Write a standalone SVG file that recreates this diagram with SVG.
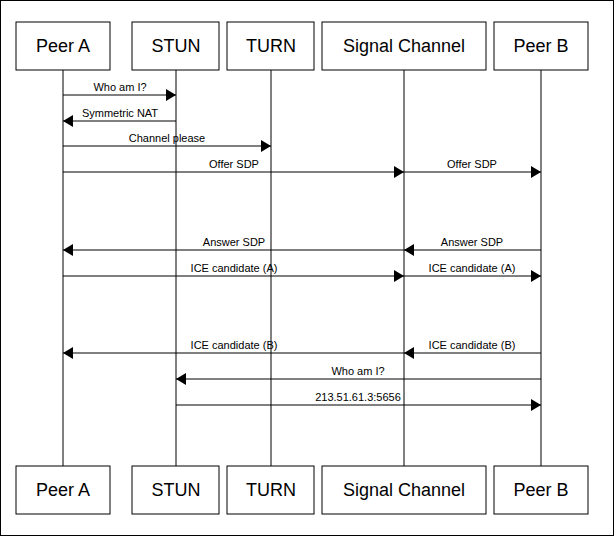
<svg xmlns="http://www.w3.org/2000/svg" width="615" height="537" viewBox="0 0 615 537">
<style>
.box{fill:#fff;stroke:#000;stroke-width:1}
.bt{font-family:"Liberation Sans",Arial,sans-serif;font-size:18px;text-anchor:middle}
.ml{font-family:"Liberation Sans",Arial,sans-serif;font-size:11px;text-anchor:middle}
.ll{stroke:#000;stroke-width:1}
.msg{stroke:#000;stroke-width:1;marker-end:url(#ah)}
</style>
<defs><marker id="ah" markerWidth="10" markerHeight="12" refX="10" refY="6" orient="auto" markerUnits="userSpaceOnUse"><path d="M0,0L10,6L0,12Z" fill="#000"/></marker></defs>
<rect x="0.5" y="0.5" width="613" height="535" fill="#fff" stroke="#000"/>
<g id="lifelines">
<line class="ll" x1="63" y1="70" x2="63" y2="466"/>
<line class="ll" x1="176" y1="70" x2="176" y2="466"/>
<line class="ll" x1="271" y1="70" x2="271" y2="466"/>
<line class="ll" x1="404" y1="70" x2="404" y2="466"/>
<line class="ll" x1="541" y1="70" x2="541" y2="466"/>
</g>
<g id="peerA"><rect class="box" x="16" y="22" width="94" height="48"/><text class="bt" x="63" y="52">Peer A</text>
<rect class="box" x="16" y="466" width="94" height="48"/><text class="bt" x="63" y="496">Peer A</text></g>
<g id="stun"><rect class="box" x="132" y="22" width="87" height="48"/><text class="bt" x="176" y="52">STUN</text>
<rect class="box" x="132" y="466" width="87" height="48"/><text class="bt" x="176" y="496">STUN</text></g>
<g id="turn"><rect class="box" x="227" y="22" width="87" height="48"/><text class="bt" x="271" y="52">TURN</text>
<rect class="box" x="227" y="466" width="87" height="48"/><text class="bt" x="271" y="496">TURN</text></g>
<g id="signal"><rect class="box" x="322" y="22" width="164" height="48"/><text class="bt" x="404" y="52">Signal Channel</text>
<rect class="box" x="322" y="466" width="164" height="48"/><text class="bt" x="404" y="496">Signal Channel</text></g>
<g id="peerB"><rect class="box" x="494" y="22" width="94" height="48"/><text class="bt" x="541" y="52">Peer B</text>
<rect class="box" x="494" y="466" width="94" height="48"/><text class="bt" x="541" y="496">Peer B</text></g>
<g id="connectors">
<line class="msg" x1="63" y1="95" x2="176" y2="95"/><text class="ml" x="120" y="91">Who am I?</text>
<line class="msg" x1="176" y1="121" x2="63" y2="121"/><text class="ml" x="120" y="117">Symmetric NAT</text>
<line class="msg" x1="63" y1="146" x2="271" y2="146"/><text class="ml" x="167" y="142">Channel please</text>
<line class="msg" x1="63" y1="172" x2="404" y2="172"/><text class="ml" x="234" y="168">Offer SDP</text>
<line class="msg" x1="404" y1="172" x2="541" y2="172"/><text class="ml" x="472" y="168">Offer SDP</text>
<line class="msg" x1="541" y1="250" x2="404" y2="250"/><text class="ml" x="472" y="246">Answer SDP</text>
<line class="msg" x1="404" y1="250" x2="63" y2="250"/><text class="ml" x="234" y="246">Answer SDP</text>
<line class="msg" x1="63" y1="276" x2="404" y2="276"/><text class="ml" x="234" y="272">ICE candidate (A)</text>
<line class="msg" x1="404" y1="276" x2="541" y2="276"/><text class="ml" x="472" y="272">ICE candidate (A)</text>
<line class="msg" x1="541" y1="353" x2="404" y2="353"/><text class="ml" x="472" y="349">ICE candidate (B)</text>
<line class="msg" x1="404" y1="353" x2="63" y2="353"/><text class="ml" x="234" y="349">ICE candidate (B)</text>
<line class="msg" x1="541" y1="379" x2="176" y2="379"/><text class="ml" x="358" y="375">Who am I?</text>
<line class="msg" x1="176" y1="405" x2="541" y2="405"/><text class="ml" x="358" y="401">213.51.61.3:5656</text>
</g>
</svg>
